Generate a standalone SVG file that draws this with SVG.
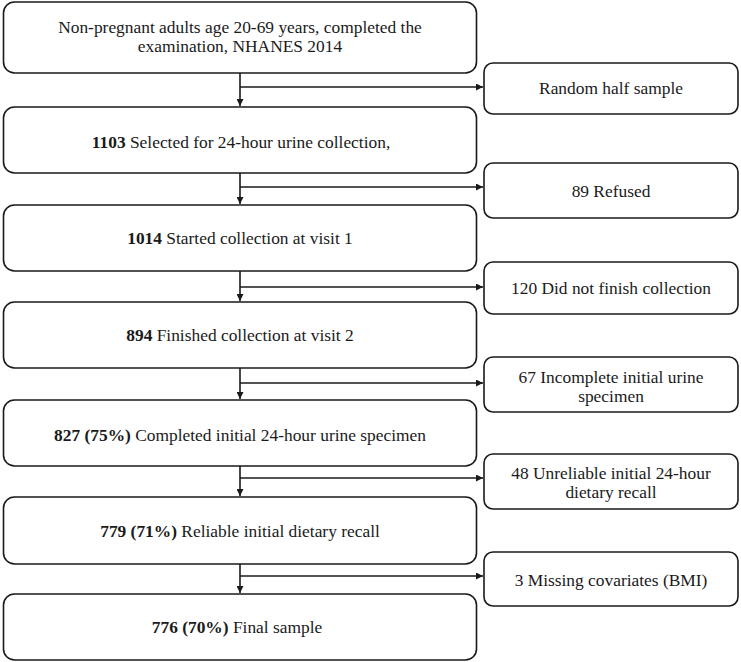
<svg xmlns="http://www.w3.org/2000/svg" width="741" height="662" viewBox="0 0 741 662">
<defs>
<style>
.box{fill:#fff;stroke:#1a1a1a;stroke-width:1.6}
.t{font-family:"Liberation Serif","Times New Roman",serif;font-size:17.4px;fill:#1a1a1a;text-anchor:middle}
.b{font-weight:bold}
.c{stroke:#1a1a1a;stroke-width:1.6;fill:none}
</style>
<marker id="ah" viewBox="0 0 10 10" refX="10" refY="5" markerWidth="7" markerHeight="7" markerUnits="userSpaceOnUse" orient="auto"><path d="M0,0 L10,5 L0,10 z" fill="#1a1a1a"/></marker>
</defs>
<rect width="741" height="662" fill="#fff"/>
<g id="connectors">
<path class="c" d="M240,73 V106" marker-end="url(#ah)"/>
<path class="c" d="M240,87 H483" marker-end="url(#ah)"/>
<path class="c" d="M240,173 V204" marker-end="url(#ah)"/>
<path class="c" d="M240,187 H483" marker-end="url(#ah)"/>
<path class="c" d="M240,271 V301" marker-end="url(#ah)"/>
<path class="c" d="M240,287 H483" marker-end="url(#ah)"/>
<path class="c" d="M240,368 V399" marker-end="url(#ah)"/>
<path class="c" d="M240,383 H483" marker-end="url(#ah)"/>
<path class="c" d="M240,466 V496" marker-end="url(#ah)"/>
<path class="c" d="M240,478 H483" marker-end="url(#ah)"/>
<path class="c" d="M240,564 V593" marker-end="url(#ah)"/>
<path class="c" d="M240,576 H483" marker-end="url(#ah)"/>
</g>
<g id="n1"><rect class="box" x="3.5" y="2" width="473" height="71" rx="11"/>
<text class="t" x="240" y="33">Non-pregnant adults age 20-69 years, completed the</text>
<text class="t" x="240" y="52">examination, NHANES 2014</text></g>
<g id="n2"><rect class="box" x="3.5" y="107" width="473" height="66" rx="11"/>
<text class="t" x="241" y="148"><tspan class="b">1103</tspan> Selected for 24-hour urine collection,</text></g>
<g id="n3"><rect class="box" x="3.5" y="205" width="473" height="66" rx="11"/>
<text class="t" x="240" y="244"><tspan class="b">1014</tspan> Started collection at visit 1</text></g>
<g id="n4"><rect class="box" x="3.5" y="302" width="473" height="66" rx="11"/>
<text class="t" x="240" y="341"><tspan class="b">894</tspan> Finished collection at visit 2</text></g>
<g id="n5"><rect class="box" x="3.5" y="400" width="473" height="66" rx="11"/>
<text class="t" x="240" y="441"><tspan class="b">827 (75%)</tspan> Completed initial 24-hour urine specimen</text></g>
<g id="n6"><rect class="box" x="3.5" y="497" width="473" height="67" rx="11"/>
<text class="t" x="240" y="537"><tspan class="b">779 (71%)</tspan> Reliable initial dietary recall</text></g>
<g id="n7"><rect class="box" x="3.5" y="594" width="473" height="66" rx="11"/>
<text class="t" x="237" y="633"><tspan class="b">776 (70%)</tspan> Final sample</text></g>
<g id="s1"><rect class="box" x="484" y="63" width="254" height="51" rx="9"/>
<text class="t" x="611" y="94">Random half sample</text></g>
<g id="s2"><rect class="box" x="484" y="163" width="254" height="55" rx="9"/>
<text class="t" x="611" y="197">89 Refused</text></g>
<g id="s3"><rect class="box" x="484" y="262" width="254" height="52" rx="9"/>
<text class="t" x="611" y="294">120 Did not finish collection</text></g>
<g id="s4"><rect class="box" x="484" y="357" width="254" height="55" rx="9"/>
<text class="t" x="611" y="383">67 Incomplete initial urine</text>
<text class="t" x="611" y="402">specimen</text></g>
<g id="s5"><rect class="box" x="484" y="454" width="254" height="55" rx="9"/>
<text class="t" x="611" y="479">48 Unreliable initial 24-hour</text>
<text class="t" x="611" y="498">dietary recall</text></g>
<g id="s6"><rect class="box" x="484" y="552" width="254" height="54" rx="9"/>
<text class="t" x="611" y="586">3 Missing covariates (BMI)</text></g>
</svg>
